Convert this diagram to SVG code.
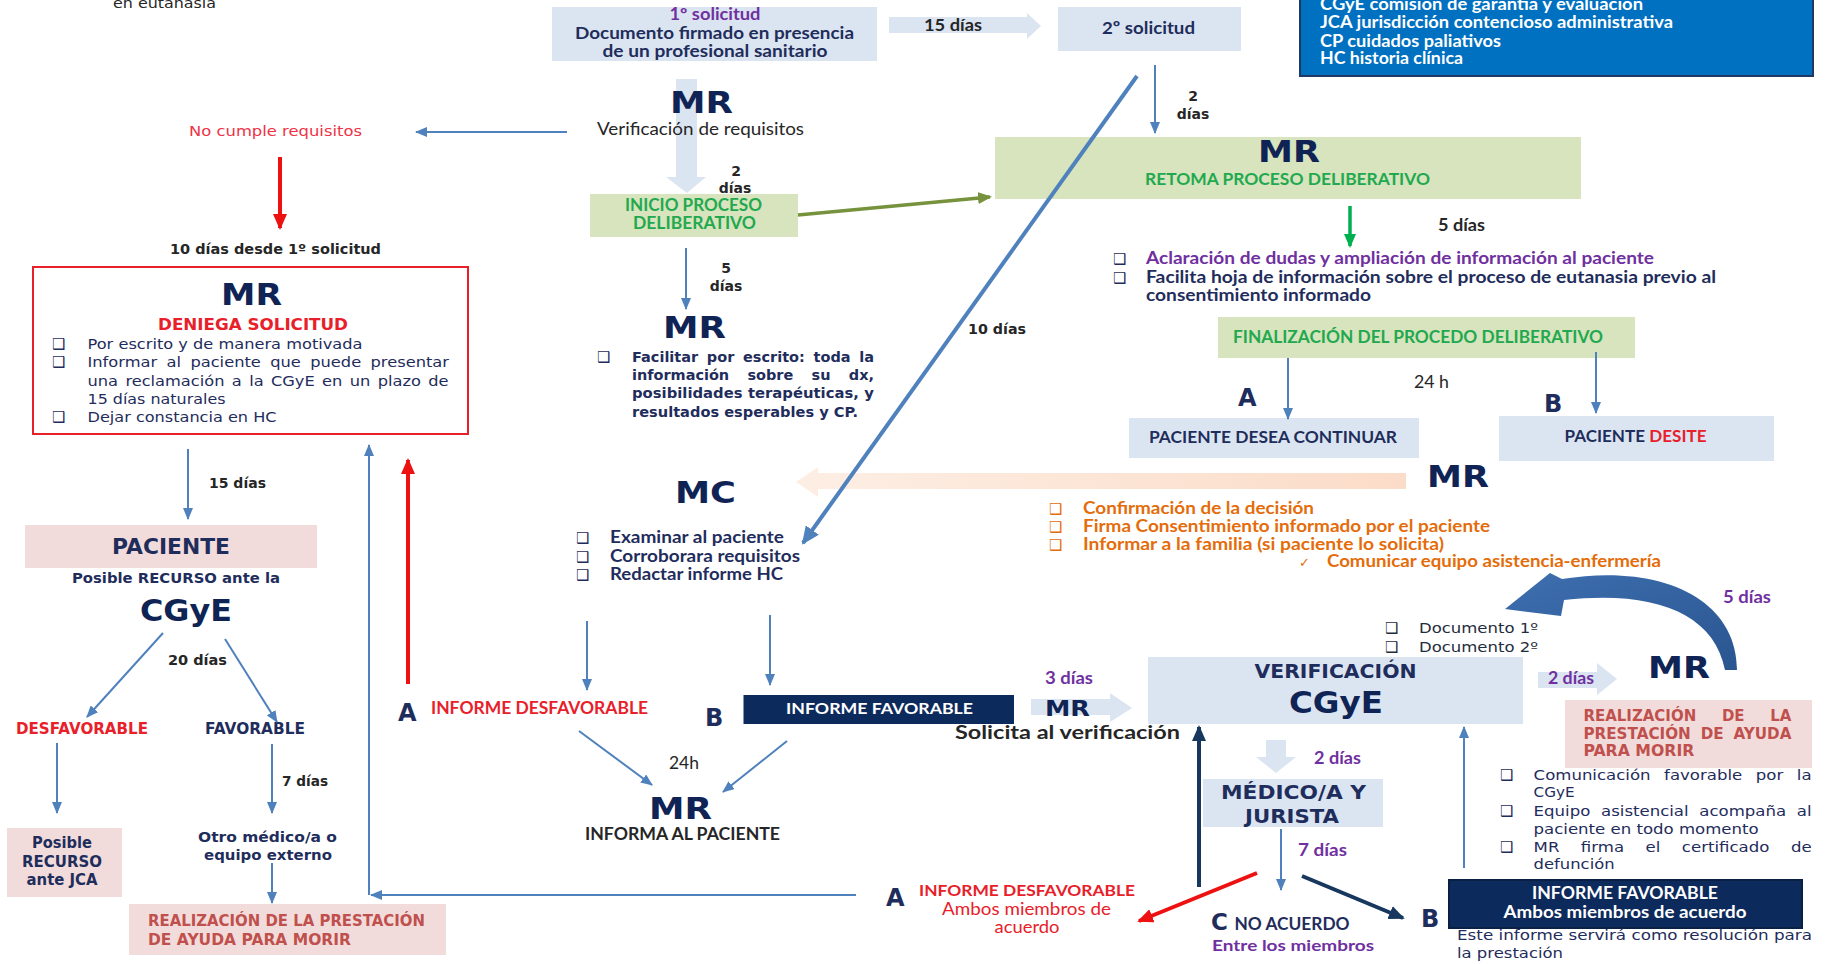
<svg xmlns="http://www.w3.org/2000/svg" width="1827" height="964" viewBox="0 0 1827 964">
<style>
.v{font-family:"DejaVu Sans",Verdana,sans-serif}
.c{font-family:Lato,"Open Sans","Liberation Sans",sans-serif}
.b{font-weight:bold}
.nv{fill:#1f2d5c}
.big{font-family:"DejaVu Sans",Verdana,sans-serif;font-weight:bold;font-size:31px;fill:#0f2354}
.red{fill:#e8202a}
.pur{fill:#7030a0}
.org{fill:#e46c0a}
.grn{fill:#22a94f}
.pk{fill:#c0504d}
.dk{fill:#262626}
.wh{fill:#ffffff}
.lb{fill:#dbe5f1}
.lg{fill:#d7e4bd}
.pkb{fill:#f2dcdb}
.bx{font-family:"DejaVu Sans",sans-serif;font-size:15px}
.ln{stroke:#4f81bd;stroke-width:2;fill:none}
.lnr{stroke:#ee1111;stroke-width:4;fill:none}
.lnn{stroke:#17375e;stroke-width:4;fill:none}
</style>
<defs>
<marker id="mb" markerUnits="userSpaceOnUse" markerWidth="12" markerHeight="10" refX="11" refY="5" orient="auto"><path d="M0,0 L12,5 L0,10 z" fill="#4f81bd"/></marker>
<marker id="mb2" markerUnits="userSpaceOnUse" markerWidth="18" markerHeight="16" refX="16" refY="8" orient="auto"><path d="M0,0 L18,8 L0,16 z" fill="#4f81bd"/></marker>
<marker id="mr" markerUnits="userSpaceOnUse" markerWidth="16" markerHeight="14" refX="14" refY="7" orient="auto"><path d="M0,0 L16,7 L0,14 z" fill="#ee1111"/></marker>
<marker id="mn" markerUnits="userSpaceOnUse" markerWidth="16" markerHeight="14" refX="14" refY="7" orient="auto"><path d="M0,0 L16,7 L0,14 z" fill="#17375e"/></marker>
<marker id="mg" markerUnits="userSpaceOnUse" markerWidth="14" markerHeight="12" refX="12" refY="6" orient="auto"><path d="M0,0 L14,6 L0,12 z" fill="#00b050"/></marker>
<marker id="mo" markerUnits="userSpaceOnUse" markerWidth="14" markerHeight="12" refX="12" refY="6" orient="auto"><path d="M0,0 L14,6 L0,12 z" fill="#76923c"/></marker>
<linearGradient id="curv" x1="0" y1="0" x2="1" y2="1"><stop offset="0" stop-color="#3e6fb0"/><stop offset="1" stop-color="#2a5590"/></linearGradient>
<linearGradient id="peach" x1="0" y1="0" x2="1" y2="0"><stop offset="0" stop-color="#fdeee4"/><stop offset="1" stop-color="#fbdcc8"/></linearGradient>
</defs>
<rect x="0" y="0" width="1827" height="964" fill="#ffffff"/>

<g id="block-arrows">
<polygon class="lb" points="889,17 1027,17 1027,13 1041,26 1027,39 1027,33 889,33"/>
<polygon class="lb" points="676,79 697,79 697,177 706,177 687,193 666,177 676,177"/>
<polygon fill="url(#peach)" points="1406,473 818,473 818,467 796,482 818,497 818,489 1406,489"/>
<polygon class="lb" points="1031,699 1110,699 1110,693 1132,708 1110,722 1110,715 1031,715"/>
<polygon class="lb" points="1538,672 1597,672 1597,663 1617,679 1597,695 1597,688 1538,688"/>
<polygon class="lb" points="1266,740 1286,740 1286,757 1296,757 1276,773 1256,757 1266,757"/>
<path fill="url(#curv)" d="M1737,670 C1737,598 1660,563 1562,579 L1550,573 L1505,609 L1561,616 L1564,600 C1652,590 1714,612 1725,670 Z"/>
</g>

<g id="n-eutanasia"><text class="v dk" x="113" y="8" font-size="13.5" textLength="103" lengthAdjust="spacingAndGlyphs">en eutanasia</text></g>
<g id="n-no-cumple"><text class="v" x="189" y="136" font-size="14" fill="#ee3346" textLength="173" lengthAdjust="spacingAndGlyphs">No cumple requisitos</text></g>
<g id="n-10dias"><text class="v b dk" x="170" y="254" font-size="14" textLength="211" lengthAdjust="spacingAndGlyphs">10 días desde 1º solicitud</text></g>

<g id="n-deniega">
<rect x="33" y="267" width="435" height="167" fill="#ffffff" stroke="#e8202a" stroke-width="2"/>
<text class="big" x="221" y="305" textLength="61" lengthAdjust="spacingAndGlyphs">MR</text>
<text class="v b red" x="158" y="330" font-size="15" textLength="190" lengthAdjust="spacingAndGlyphs">DENIEGA SOLICITUD</text>
<g class="v nv" font-size="14">
<text class="bx" x="52" y="349">❑</text><text x="87.5" y="349" textLength="275" lengthAdjust="spacingAndGlyphs">Por escrito y de manera motivada</text>
<text class="bx" x="52" y="367">❑</text>
<text x="87.5" y="367" word-spacing="3.6" textLength="361.5" lengthAdjust="spacingAndGlyphs">Informar al paciente que puede presentar</text>
<text x="87.5" y="386" word-spacing="1.9" textLength="361" lengthAdjust="spacingAndGlyphs">una reclamación a la CGyE en un plazo de</text>
<text x="87.5" y="404" textLength="138" lengthAdjust="spacingAndGlyphs">15 días naturales</text>
<text class="bx" x="52" y="422">❑</text><text x="87.5" y="422" textLength="189" lengthAdjust="spacingAndGlyphs">Dejar constancia en HC</text>
</g>
</g>

<g id="n-15dias-left"><text class="v b dk" x="209" y="488" font-size="14" textLength="57" lengthAdjust="spacingAndGlyphs">15 días</text></g>

<g id="n-paciente">
<rect class="pkb" x="25" y="525" width="292" height="43"/>
<text class="v b nv" x="112" y="554" font-size="21" textLength="118" lengthAdjust="spacingAndGlyphs">PACIENTE</text>
<text class="v b nv" x="72" y="583" font-size="14" textLength="208" lengthAdjust="spacingAndGlyphs">Posible RECURSO  ante la</text>
<text class="big" x="140" y="621" font-size="28" textLength="92" lengthAdjust="spacingAndGlyphs">CGyE</text>
</g>
<g id="n-20dias"><text class="v b dk" x="168" y="665" font-size="14" textLength="59" lengthAdjust="spacingAndGlyphs">20 días</text></g>
<g id="n-desfav-left"><text class="v b red" x="16" y="734" font-size="15" textLength="132" lengthAdjust="spacingAndGlyphs">DESFAVORABLE</text></g>
<g id="n-fav-left"><text class="v b nv" x="205" y="734" font-size="15" textLength="100" lengthAdjust="spacingAndGlyphs">FAVORABLE</text></g>
<g id="n-7dias-left"><text class="v b dk" x="282" y="786" font-size="14" textLength="46" lengthAdjust="spacingAndGlyphs">7 días</text></g>
<g id="n-jca">
<rect class="pkb" x="7" y="828" width="115" height="69"/>
<g class="v b nv" font-size="15" text-anchor="middle">
<text x="62" y="848" textLength="60" lengthAdjust="spacingAndGlyphs">Posible</text>
<text x="62" y="867" textLength="80" lengthAdjust="spacingAndGlyphs">RECURSO</text>
<text x="62" y="885" textLength="71" lengthAdjust="spacingAndGlyphs">ante JCA</text>
</g>
</g>
<g id="n-otro">
<text class="v b nv" x="198" y="842" font-size="14" textLength="139" lengthAdjust="spacingAndGlyphs">Otro médico/a o</text>
<text class="v b nv" x="204" y="860" font-size="14" textLength="128" lengthAdjust="spacingAndGlyphs">equipo externo</text>
</g>
<g id="n-realiz-left">
<rect class="pkb" x="129" y="904" width="317" height="51"/>
<text class="v b pk" x="148" y="926" font-size="15" textLength="277" lengthAdjust="spacingAndGlyphs">REALIZACIÓN DE LA PRESTACIÓN</text>
<text class="v b pk" x="148" y="945" font-size="15" textLength="203" lengthAdjust="spacingAndGlyphs">DE AYUDA PARA MORIR</text>
</g>

<g id="n-sol1">
<rect class="lb" x="552" y="7" width="325" height="54"/>
<text class="c b pur" x="669.5" y="20" font-size="16.5" textLength="91" lengthAdjust="spacingAndGlyphs">1º solicitud</text>
<text class="c b nv" x="575" y="39" font-size="17.5" textLength="279" lengthAdjust="spacingAndGlyphs">Documento firmado en presencia</text>
<text class="c b nv" x="602.5" y="57" font-size="17.5" textLength="225" lengthAdjust="spacingAndGlyphs">de un profesional sanitario</text>
</g>
<g id="n-15dias-top"><text class="c b dk" x="924" y="31" font-size="17.5" textLength="58" lengthAdjust="spacingAndGlyphs">15 días</text></g>
<g id="n-sol2">
<rect class="lb" x="1058" y="7" width="183" height="44"/>
<text class="c b nv" x="1102" y="34" font-size="17.5" textLength="93" lengthAdjust="spacingAndGlyphs">2º solicitud</text>
</g>

<g id="n-mr-verif">
<text class="big" x="670" y="113" textLength="63" lengthAdjust="spacingAndGlyphs">MR</text>
<text class="c dk" x="597" y="135" font-size="17" textLength="207" lengthAdjust="spacingAndGlyphs">Verificación de requisitos</text>
</g>
<g id="n-2dias-a" class="v b dk" font-size="14" text-anchor="middle">
<text x="736" y="176">2</text><text x="735" y="193">días</text>
</g>
<g id="n-inicio">
<rect class="lg" x="590" y="194" width="208" height="43"/>
<text class="c b grn" x="625" y="211" font-size="16.5" textLength="137" lengthAdjust="spacingAndGlyphs">INICIO PROCESO</text>
<text class="c b grn" x="633" y="229" font-size="16.5" textLength="123" lengthAdjust="spacingAndGlyphs">DELIBERATIVO</text>
</g>

<g id="n-legend">
<rect x="1300" y="-5" width="513" height="81" fill="#0070c0" stroke="#1f3864" stroke-width="2"/>
<g class="c b wh" font-size="16.5">
<text x="1320" y="10" textLength="323" lengthAdjust="spacingAndGlyphs">CGyE comisión de garantía y evaluación</text>
<text x="1320" y="28" textLength="353" lengthAdjust="spacingAndGlyphs">JCA jurisdicción contencioso administrativa</text>
<text x="1320" y="47" textLength="181" lengthAdjust="spacingAndGlyphs">CP cuidados paliativos</text>
<text x="1320" y="64" textLength="143" lengthAdjust="spacingAndGlyphs">HC historia clínica</text>
</g>
</g>

<g id="n-2dias-b" class="v b dk" font-size="14" text-anchor="middle">
<text x="1193" y="101">2</text><text x="1193" y="119">días</text>
</g>
<g id="n-retoma">
<rect class="lg" x="995" y="137" width="586" height="62"/>
<text class="big" x="1258" y="162" textLength="62" lengthAdjust="spacingAndGlyphs">MR</text>
<text class="c b grn" x="1145" y="185" font-size="17" textLength="285" lengthAdjust="spacingAndGlyphs">RETOMA PROCESO DELIBERATIVO</text>
</g>
<g id="n-5dias-a"><text class="c b dk" x="1438" y="231" font-size="16.5" textLength="47" lengthAdjust="spacingAndGlyphs">5 días</text></g>
<g id="n-aclaracion" class="c b" font-size="16.5">
<text class="bx nv" x="1113" y="264">❑</text>
<text class="pur" x="1146" y="264" textLength="508" lengthAdjust="spacingAndGlyphs">Aclaración de dudas y ampliación de información al paciente</text>
<text class="bx nv" x="1113" y="283">❑</text>
<text class="nv" x="1146" y="283" textLength="570" lengthAdjust="spacingAndGlyphs">Facilita hoja de información sobre el proceso de eutanasia previo al</text>
<text class="nv" x="1146" y="301" textLength="225" lengthAdjust="spacingAndGlyphs">consentimiento informado</text>
</g>

<g id="n-5dias-b" class="v b dk" font-size="14" text-anchor="middle">
<text x="726" y="273">5</text><text x="726" y="291">días</text>
</g>
<g id="n-mr-facilitar">
<text class="big" x="663" y="338" textLength="63" lengthAdjust="spacingAndGlyphs">MR</text>
<g class="v b nv" font-size="13.5">
<text class="bx" x="597" y="362">❑</text>
<text x="632" y="362" word-spacing="3.4" textLength="242" lengthAdjust="spacingAndGlyphs">Facilitar por escrito: toda la</text>
<text x="632" y="380" word-spacing="12.4" textLength="242" lengthAdjust="spacingAndGlyphs">información sobre su dx,</text>
<text x="632" y="398" word-spacing="0.3" textLength="242" lengthAdjust="spacingAndGlyphs">posibilidades terapéuticas, y</text>
<text x="632" y="417" textLength="226" lengthAdjust="spacingAndGlyphs">resultados esperables y CP.</text>
</g>
</g>
<g id="n-10dias-diag"><text class="v b dk" x="968" y="334" font-size="14" textLength="58" lengthAdjust="spacingAndGlyphs">10 días</text></g>

<g id="n-mc">
<text class="big" x="675" y="503" textLength="61" lengthAdjust="spacingAndGlyphs">MC</text>
<g class="nv" font-size="16.5">
<text class="bx" x="576" y="543">❑</text><text class="c b" x="610" y="543" textLength="174" lengthAdjust="spacingAndGlyphs">Examinar al paciente</text>
<text class="bx" x="576" y="562">❑</text><text class="c b" x="610" y="562" textLength="190" lengthAdjust="spacingAndGlyphs">Corroborara requisitos</text>
<text class="bx" x="576" y="580">❑</text><text class="c b" x="610" y="580" textLength="173" lengthAdjust="spacingAndGlyphs">Redactar informe HC</text>
</g>
</g>

<g id="n-final">
<rect class="lg" x="1218" y="317" width="417" height="41"/>
<text class="c b grn" x="1233" y="343" font-size="16.5" textLength="370" lengthAdjust="spacingAndGlyphs">FINALIZACIÓN DEL PROCEDO DELIBERATIVO</text>
</g>
<g id="n-24h-a"><text class="c dk" x="1414" y="388" font-size="16.5" textLength="35" lengthAdjust="spacingAndGlyphs">24 h</text></g>
<g id="n-desea">
<text class="v b nv" x="1238" y="406" font-size="24">A</text>
<rect class="lb" x="1129" y="418" width="290" height="40"/>
<text class="c b nv" x="1149" y="443" font-size="17" textLength="248" lengthAdjust="spacingAndGlyphs">PACIENTE DESEA CONTINUAR</text>
</g>
<g id="n-desite">
<text class="v b nv" x="1544" y="412" font-size="24">B</text>
<rect class="lb" x="1499" y="416" width="275" height="45"/>
<text class="c b nv" x="1564.5" y="442" font-size="17" textLength="142" lengthAdjust="spacingAndGlyphs">PACIENTE <tspan class="red">DESITE</tspan></text>
</g>
<g id="n-mr-confirm">
<text class="big" x="1427" y="487" textLength="62" lengthAdjust="spacingAndGlyphs">MR</text>
<g class="org" font-size="16.5">
<text class="bx" x="1049" y="514">❑</text><text class="c b" x="1083" y="514" textLength="231" lengthAdjust="spacingAndGlyphs">Confirmación de la decisión</text>
<text class="bx" x="1049" y="532">❑</text><text class="c b" x="1083" y="532" textLength="407" lengthAdjust="spacingAndGlyphs">Firma Consentimiento informado por el paciente</text>
<text class="bx" x="1049" y="550">❑</text><text class="c b" x="1083" y="550" textLength="361" lengthAdjust="spacingAndGlyphs">Informar a la familia (si paciente lo solicita)</text>
<text class="v" x="1299" y="567" font-size="13">✓</text><text class="c b" x="1327" y="567" textLength="334" lengthAdjust="spacingAndGlyphs">Comunicar equipo asistencia-enfermería</text>
</g>
</g>

<g id="n-desfav-mid">
<text class="v b nv" x="398" y="721" font-size="24">A</text>
<text class="c b red" x="431" y="714" font-size="16.5" textLength="217" lengthAdjust="spacingAndGlyphs">INFORME DESFAVORABLE</text>
</g>
<g id="n-fav-mid">
<text class="v b nv" x="705" y="726" font-size="24">B</text>
<rect x="743.5" y="695" width="270.5" height="29" fill="#0d2a5c"/>
<text class="c b wh" x="786" y="714" font-size="16" textLength="187" lengthAdjust="spacingAndGlyphs">INFORME FAVORABLE</text>
</g>
<g id="n-mr-solicita">
<text class="c b pur" x="1045" y="684" font-size="16.5" textLength="48" lengthAdjust="spacingAndGlyphs">3 días</text>
<text class="v b" x="1045" y="716" font-size="22" fill="#0f2354" textLength="45" lengthAdjust="spacingAndGlyphs">MR</text>
<text class="c b dk" x="955" y="739" font-size="19" textLength="225" lengthAdjust="spacingAndGlyphs">Solicita al verificación</text>
</g>
<g id="n-24h-b"><text class="c dk" x="669" y="769" font-size="16.5" textLength="30" lengthAdjust="spacingAndGlyphs">24h</text></g>
<g id="n-mr-informa">
<text class="big" x="649" y="819" textLength="63" lengthAdjust="spacingAndGlyphs">MR</text>
<text class="c b dk" x="585" y="840" font-size="16.5" textLength="195" lengthAdjust="spacingAndGlyphs">INFORMA AL PACIENTE</text>
</g>
<g id="n-desfav-bottom">
<text class="v b nv" x="886" y="906" font-size="24">A</text>
<text class="c b red" x="919" y="896" font-size="16" textLength="216" lengthAdjust="spacingAndGlyphs">INFORME DESFAVORABLE</text>
<text class="c red" x="942" y="915" font-size="16.5" textLength="169" lengthAdjust="spacingAndGlyphs">Ambos miembros de</text>
<text class="c red" x="994.5" y="933" font-size="16.5" textLength="65" lengthAdjust="spacingAndGlyphs">acuerdo</text>
</g>

<g id="n-5dias-c"><text class="c b pur" x="1723" y="603" font-size="16.5" textLength="48" lengthAdjust="spacingAndGlyphs">5 días</text></g>
<g id="n-documentos" class="v" font-size="14" fill="#1f2d3c">
<text class="bx" x="1385" y="633">❑</text><text x="1419" y="633" textLength="119" lengthAdjust="spacingAndGlyphs">Documento 1º</text>
<text class="bx" x="1385" y="652">❑</text><text x="1419" y="652" textLength="119" lengthAdjust="spacingAndGlyphs">Documento 2º</text>
</g>
<g id="n-verificacion">
<rect class="lb" x="1148" y="657" width="375" height="67"/>
<text class="v b nv" x="1254.5" y="678" font-size="20" textLength="162" lengthAdjust="spacingAndGlyphs">VERIFICACIÓN</text>
<text class="big" x="1289" y="713" font-size="28" textLength="94" lengthAdjust="spacingAndGlyphs">CGyE</text>
</g>
<g id="n-2dias-c"><text class="c b pur" x="1548" y="684" font-size="16.5" textLength="46" lengthAdjust="spacingAndGlyphs">2 días</text></g>
<g id="n-mr-realiz">
<text class="big" x="1648" y="678" textLength="62" lengthAdjust="spacingAndGlyphs">MR</text>
<rect class="pkb" x="1565" y="700" width="247" height="68"/>
<g class="v b pk" font-size="15">
<text x="1583.4" y="721" word-spacing="20.5" textLength="208" lengthAdjust="spacingAndGlyphs">REALIZACIÓN DE LA</text>
<text x="1583.4" y="739" word-spacing="4.5" textLength="208" lengthAdjust="spacingAndGlyphs">PRESTACIÓN DE AYUDA</text>
<text x="1583.4" y="756" textLength="111" lengthAdjust="spacingAndGlyphs">PARA MORIR</text>
</g>
<g class="v nv" font-size="14.5">
<text class="bx" x="1500" y="780">❑</text>
<text x="1533.6" y="780" word-spacing="7.3" textLength="278" lengthAdjust="spacingAndGlyphs">Comunicación favorable por la</text>
<text x="1533.6" y="797" textLength="41" lengthAdjust="spacingAndGlyphs">CGyE</text>
<text class="bx" x="1500" y="816">❑</text>
<text x="1533.6" y="816" word-spacing="4.8" textLength="278" lengthAdjust="spacingAndGlyphs">Equipo asistencial acompaña al</text>
<text x="1533.6" y="834" textLength="225" lengthAdjust="spacingAndGlyphs">paciente en todo momento</text>
<text class="bx" x="1500" y="852">❑</text>
<text x="1533.6" y="852" word-spacing="14.2" textLength="278" lengthAdjust="spacingAndGlyphs">MR firma el certificado de</text>
<text x="1533.6" y="869" textLength="81" lengthAdjust="spacingAndGlyphs">defunción</text>
</g>
</g>
<g id="n-2dias-d"><text class="c b pur" x="1314" y="764" font-size="16.5" textLength="47" lengthAdjust="spacingAndGlyphs">2 días</text></g>
<g id="n-medico">
<rect class="lb" x="1203" y="779" width="180" height="48"/>
<text class="v b nv" x="1221" y="799" font-size="20" textLength="145" lengthAdjust="spacingAndGlyphs">MÉDICO/A Y</text>
<text class="v b nv" x="1245" y="823" font-size="20" textLength="94" lengthAdjust="spacingAndGlyphs">JURISTA</text>
</g>
<g id="n-7dias-b"><text class="c b pur" x="1298" y="856" font-size="16.5" textLength="49" lengthAdjust="spacingAndGlyphs">7 días</text></g>
<g id="n-noacuerdo">
<text class="v b nv" x="1211" y="930" font-size="23">C</text>
<text class="c b nv" x="1234.5" y="930" font-size="16.5" textLength="115" lengthAdjust="spacingAndGlyphs">NO ACUERDO</text>
<text class="c b pur" x="1212" y="951" font-size="16" textLength="162" lengthAdjust="spacingAndGlyphs">Entre los miembros</text>
</g>
<g id="n-fav-bottom">
<text class="v b nv" x="1421" y="927" font-size="24">B</text>
<rect x="1449" y="880" width="353" height="48" fill="#0d2a5c" stroke="#0a1f44" stroke-width="2"/>
<text class="c b wh" x="1625" y="899" font-size="16.5" text-anchor="middle" textLength="186" lengthAdjust="spacingAndGlyphs">INFORME FAVORABLE</text>
<text class="c b wh" x="1625" y="918" font-size="16.5" text-anchor="middle" textLength="243" lengthAdjust="spacingAndGlyphs">Ambos miembros de acuerdo</text>
<text class="v nv" x="1457" y="940" font-size="14" textLength="355" lengthAdjust="spacingAndGlyphs">Este informe servirá como resolución para</text>
<text class="v nv" x="1457" y="958" font-size="14" textLength="106" lengthAdjust="spacingAndGlyphs">la prestación</text>
</g>

<g id="connectors">
<line class="ln" x1="567" y1="132" x2="416" y2="132" marker-end="url(#mb)"/>
<line class="lnr" x1="280" y1="157" x2="280" y2="228" marker-end="url(#mr)"/>
<line class="ln" x1="188" y1="449" x2="188" y2="519" marker-end="url(#mb)"/>
<line class="ln" x1="163" y1="633" x2="87" y2="717" marker-end="url(#mb)"/>
<line class="ln" x1="225" y1="639" x2="277" y2="722" marker-end="url(#mb)"/>
<line class="ln" x1="57" y1="743" x2="57" y2="813" marker-end="url(#mb)"/>
<line class="ln" x1="272" y1="744" x2="272" y2="813" marker-end="url(#mb)"/>
<line class="ln" x1="272" y1="863" x2="272" y2="903" marker-end="url(#mb)"/>
<line class="ln" x1="369" y1="895" x2="369" y2="445" marker-end="url(#mb)"/>
<line class="ln" x1="856" y1="895" x2="371" y2="895" marker-end="url(#mb)"/>
<line class="lnr" x1="408" y1="684" x2="408" y2="460" marker-end="url(#mr)"/>
<line x1="798" y1="215" x2="990" y2="197" stroke="#76923c" stroke-width="3.5" marker-end="url(#mo)"/>
<line class="ln" x1="1155" y1="65" x2="1155" y2="133" marker-end="url(#mb)"/>
<line x1="1137" y1="76" x2="803" y2="543" stroke="#4f81bd" stroke-width="4" marker-end="url(#mb2)"/>
<line class="ln" x1="686" y1="248" x2="686" y2="309" marker-end="url(#mb)"/>
<line x1="1350" y1="206" x2="1350" y2="246" stroke="#00b050" stroke-width="3.5" marker-end="url(#mg)"/>
<line class="ln" x1="1288" y1="358" x2="1288" y2="419" marker-end="url(#mb)"/>
<line class="ln" x1="1596" y1="352" x2="1596" y2="413" marker-end="url(#mb)"/>
<line class="ln" x1="587" y1="621" x2="587" y2="690" marker-end="url(#mb)"/>
<line class="ln" x1="770" y1="615" x2="770" y2="685" marker-end="url(#mb)"/>
<line class="ln" x1="579" y1="731" x2="652" y2="785" marker-end="url(#mb)"/>
<line class="ln" x1="787" y1="741" x2="723" y2="792" marker-end="url(#mb)"/>
<line class="lnn" x1="1199" y1="887" x2="1199" y2="727" marker-end="url(#mn)"/>
<line class="ln" x1="1281" y1="829" x2="1281" y2="890" marker-end="url(#mb)"/>
<line class="lnr" x1="1257" y1="873" x2="1139" y2="921" marker-end="url(#mr)"/>
<line class="lnn" x1="1302" y1="876" x2="1403" y2="918" marker-end="url(#mn)"/>
<line class="ln" x1="1464" y1="868" x2="1464" y2="727" marker-end="url(#mb)"/>
</g>
</svg>
